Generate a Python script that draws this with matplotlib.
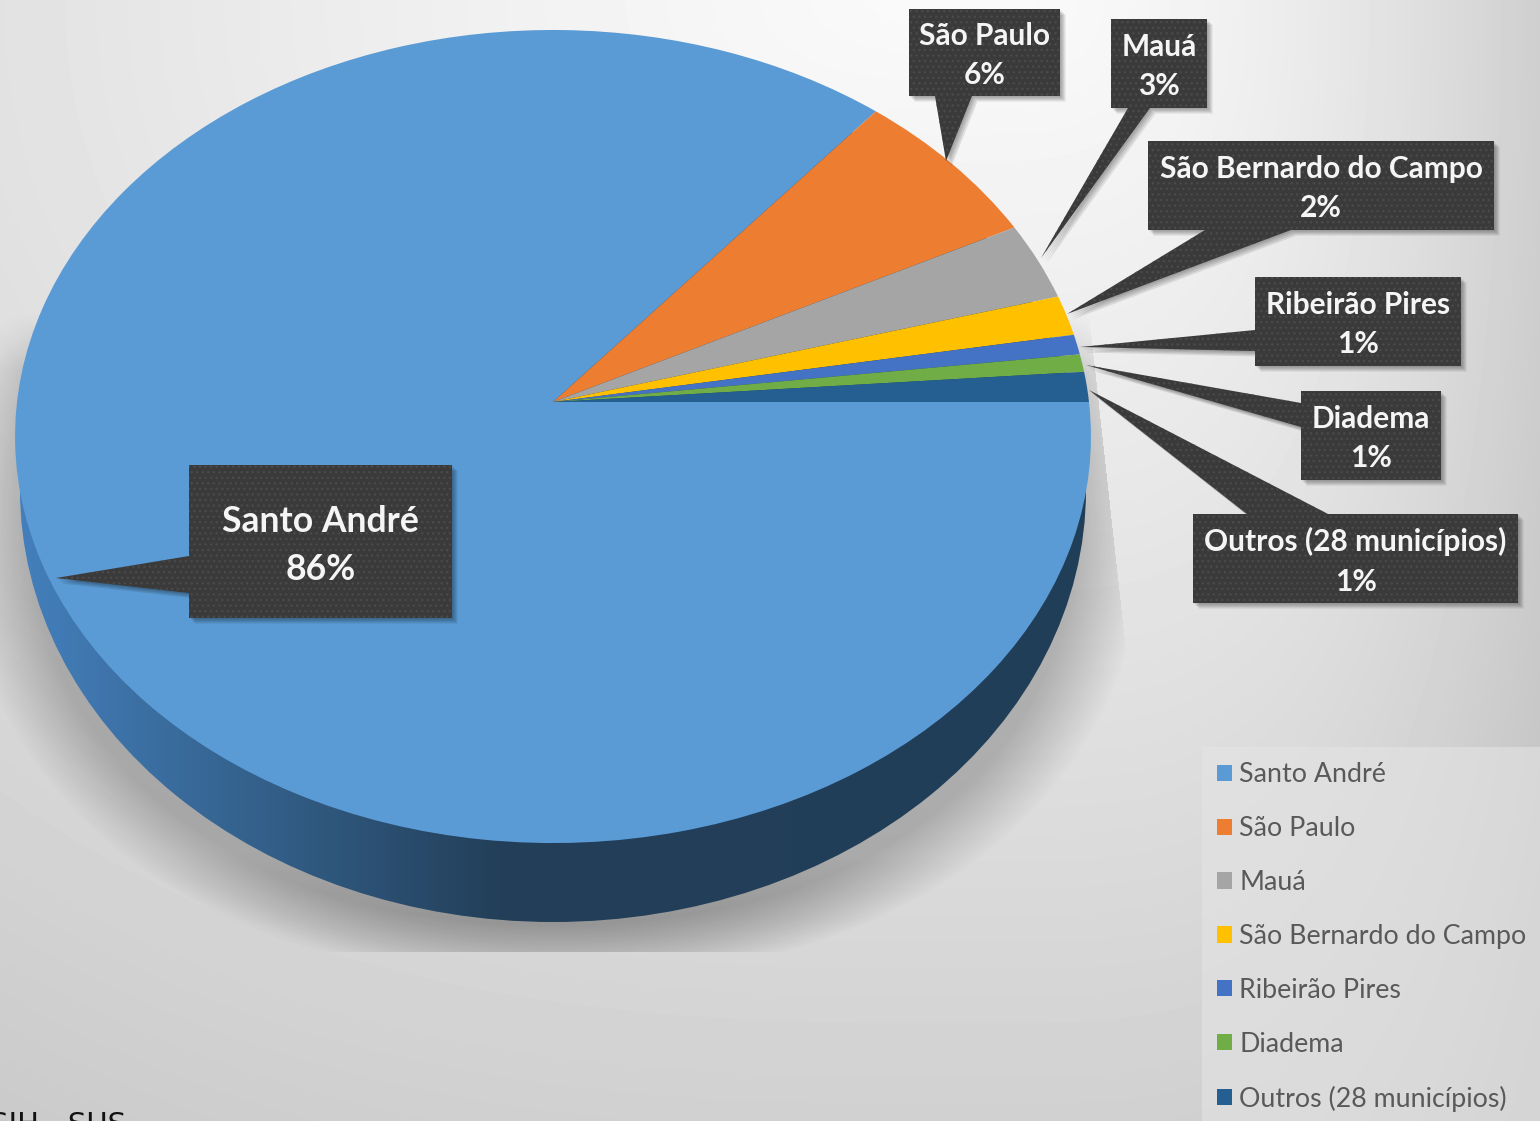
import numpy as np
import matplotlib
matplotlib.use('Agg')
import matplotlib.pyplot as plt
import matplotlib.patheffects as pe
from matplotlib.colors import LinearSegmentedColormap
from matplotlib.patches import Polygon, Ellipse
from matplotlib.transforms import Transform

W, H = 1540, 1121

# chart data
cities = ['Santo André', 'São Paulo', 'Mauá', 'São Bernardo do Campo',
          'Ribeirão Pires', 'Diadema', 'Outros (28 municípios)']
shares = [86.0, 6.5, 3.1, 1.6, 0.8, 0.7, 1.2]
share_labels = ['86%', '6%', '3%', '2%', '1%', '1%', '1%']
colors = ['#5B9BD5', '#ED7D31', '#A5A5A5', '#FFC000', '#4472C4', '#70AD47', '#255E91']

# pie geometry, in pixels
cx, cy = 553, 402
scale_x, scale_y, tilt = 536, 403.6, 0.0849

# callout boxes: x0, y0, x1, y1, then the tail base points and the tip
boxes = [
    (189, 465, 452, 618, (189, 556), (189, 593), (56, 578)),
    (909, 9, 1060, 96, (935, 96), (972, 96), (946, 161)),
    (1111, 19, 1207, 108, (1128, 108), (1150, 108), (1041, 258)),
    (1148, 141, 1494, 230, (1205, 230), (1291, 230), (1067, 314)),
    (1255, 277, 1461, 366, (1255, 330), (1255, 351), (1080, 347)),
    (1301, 391, 1441, 480, (1301, 403), (1301, 427), (1086, 365)),
    (1193, 514, 1518, 603, (1247, 514), (1328, 514), (1089, 390)),
]
label_sizes = [25.6, 21.5, 21.5, 21.5, 21.5, 21.5, 21.5]
label_shift = [4, 3, 3, 3, 3, 3, 3]


class Perspective(Transform):
    # the pie is seen from above, so the far side comes out smaller
    input_dims = 2
    output_dims = 2

    def transform_non_affine(self, values):
        u, v = values[:, 0], values[:, 1]
        w = 1 + tilt * v
        return np.c_[cx + scale_x * u / w, cy - scale_y * v / w]


plt.rcParams['font.family'] = ['Lato', 'DejaVu Sans']

fig = plt.figure(figsize=(W / 100, H / 100), dpi=100)
ax = fig.add_axes([0, 0, 1, 1])
ax.axis('off')

# background gradient, falls off faster to the right than to the left
xx, yy = np.meshgrid(np.arange(W), np.arange(H))
dx = xx - 950.0
fall_x = np.where(dx > 0, 42 * (np.abs(dx) / 580) ** 2, 24 * (np.abs(dx) / 950) ** 1.3)
fall_y = 0.037 * yy
bg = (250 - np.hypot(fall_x, fall_y)) / 255
ax.imshow(bg, cmap='gray', vmin=0, vmax=1, extent=(0, W, H, 0), aspect='auto', zorder=0)

# shadow under the pie, hard edge at the bottom and on the right
r = (np.abs((xx - cx) / 595) ** 2.2 + np.abs((yy - 510) / 470) ** 2.2) ** (1 / 2.2)
alpha = np.clip((1.0 - r) / 0.12, 0, 1) * (0.22 + 0.12 * np.clip((yy - 850) / 100, 0, 1))
alpha *= np.clip((yy - 310) / 60, 0, 1)
alpha[yy > 951] = 0
alpha[xx > 1098 + 0.11 * (yy - 400)] = 0
shade = np.zeros((H, W, 4))
shade[..., 3] = alpha
ax.imshow(shade, extent=(0, W, H, 0), aspect='auto', zorder=1)

# side wall of the pie
wall = Ellipse((553, 490), 2 * 533, 2 * 432, transform=ax.transData, fc='none', ec='none')
ax.add_patch(wall)
ramp = np.linspace(0, 1, 256).reshape(1, -1)
wall_cmap = LinearSegmentedColormap.from_list(
    'wall', [(0, '#4480BD'), (0.22, '#34618C'), (0.45, '#233F59'), (1, '#213E58')])
img = ax.imshow(ramp, cmap=wall_cmap, extent=(15, 1091, H, 0), aspect='auto', zorder=2)
img.set_clip_path(wall)
ax.set_xlim(0, W)
ax.set_ylim(H, 0)

# pie top
pie_ax = fig.add_axes([0, 0, 1, 1], zorder=3)
wedges, _ = pie_ax.pie(shares, colors=colors, startangle=0, counterclock=False, radius=1,
                       wedgeprops={'linewidth': 0})
pie_ax.set_aspect('auto')
pie_ax.set_xlim(0, W)
pie_ax.set_ylim(H, 0)
pie_ax.axis('off')
for wedge in wedges:
    wedge.set_transform(Perspective() + pie_ax.transData)

# callouts go on a top layer
top = fig.add_axes([0, 0, 1, 1], zorder=4)
top.set_xlim(0, W)
top.set_ylim(H, 0)
top.axis('off')

soft_shadow = [pe.SimplePatchShadow(offset=(d, -d), shadow_rgbFace='k', alpha=0.09) for d in (4, 3, 2, 1)]

for city, label, size, shift, box in zip(cities, share_labels, label_sizes, label_shift, boxes):
    x0, y0, x1, y1, base_a, base_b, tip = box
    pts = [(x0, y0), (x1, y0), (x1, y1), (x0, y1)]
    # find the side the tail leaves from and put it in the outline there
    if base_a[1] == y1:
        outline = pts[:3] + [base_b, tip, base_a] + pts[3:]
    elif base_a[1] == y0:
        outline = [pts[0], base_a, tip, base_b] + pts[1:]
    else:
        outline = pts + [base_b, tip, base_a]
    shape = Polygon(outline, closed=True, fc='#3A3A3A', lw=0)
    shape.set_path_effects(soft_shadow + [pe.Normal()])
    top.add_patch(shape)
    top.add_patch(Polygon(outline, closed=True, fc='none', ec='#4A4A4A', hatch='...', lw=0))
    top.text((x0 + x1) / 2, (y0 + y1) / 2 + shift, f'{city}\n{label}', color='#F5F5F5', fontsize=size,
             fontweight='bold', ha='center', va='center', linespacing=1.52)

# source line, cut off by the bottom edge
top.text(-10, 1111, 'SIH - SUS', color='#111111', fontsize=21, family='DejaVu Sans', va='top', clip_on=False)

# legend
leg = top.legend(wedges, cities, loc='upper left', bbox_to_anchor=(1202 / W, 1 - 747 / H),
                 borderaxespad=0, fontsize=19.25, labelcolor='#595959', frameon=True, fancybox=False,
                 facecolor='#E4E4E4', edgecolor='none', framealpha=0.6, handlelength=0.56,
                 handleheight=0.56, handletextpad=0.26, labelspacing=1.08, borderpad=0.57)

fig.savefig('out.png', dpi=100)
